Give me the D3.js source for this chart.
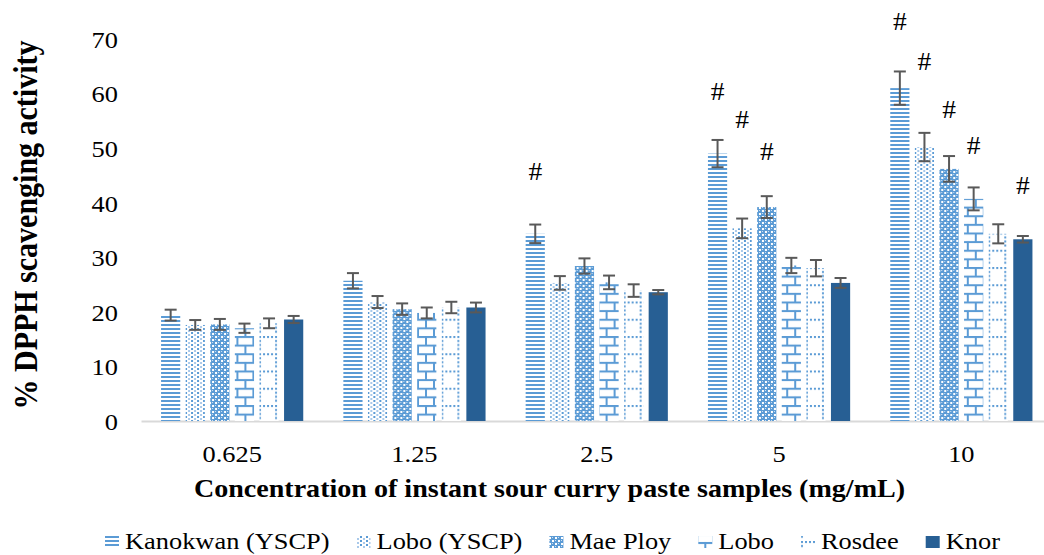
<!DOCTYPE html>
<html>
<head>
<meta charset="utf-8">
<script src="https://cdn.jsdelivr.net/npm/d3@7"></script>
<style>
  body { margin: 0; background: #fff; }
</style>
</head>
<body>
<svg id="chart" width="1044" height="555" font-family="Liberation Serif"></svg>
<script>
// concentrations (mg/mL)
const categories = ["0.625", "1.25", "2.5", "5", "10"];
const seriesNames = ["Kanokwan (YSCP)", "Lobo (YSCP)", "Mae Ploy", "Lobo", "Rosdee", "Knor"];

// % DPPH scavenging activity
const kanokwanYSCP = [19.4, 25.7, 34.3, 49.0, 61.0];
const loboYSCP     = [17.6, 21.8, 25.3, 35.3, 50.2];
const maePloy      = [17.7, 20.5, 28.4, 39.2, 46.2];
const lobo         = [17.0, 19.8, 25.4, 28.5, 40.7];
const rosdee       = [17.9, 20.8, 23.9, 28.0, 34.3];
const knor         = [18.6, 20.8, 23.6, 25.3, 33.3];

// error bar half-lengths
const errKanokwanYSCP = [1.0, 1.4, 1.7, 2.5, 3.05];
const errLoboYSCP     = [0.9, 1.1, 1.25, 1.8, 2.6];
const errMaePloy      = [1.0, 1.05, 1.4, 2.0, 2.35];
const errLobo         = [0.85, 1.0, 1.25, 1.4, 2.1];
const errRosdee       = [0.9, 1.05, 1.15, 1.5, 1.75];
const errKnor         = [0.65, 0.9, 0.4, 0.9, 0.6];

const yTicks = [0, 10, 20, 30, 40, 50, 60, 70];

// "#" significance marks: category, series index, height in axis units
const hashCats   = ["2.5", "5", "5", "5", "10", "10", "10", "10", "10"];
const hashSeries = [0, 0, 1, 2, 0, 1, 2, 3, 5];
const hashValues = [45.6, 60.3, 55.2, 49.3, 73.1, 65.8, 57.0, 50.4, 43.1];

const values = [kanokwanYSCP, loboYSCP, maePloy, lobo, rosdee, knor];
const errors = [errKanokwanYSCP, errLoboYSCP, errMaePloy, errLobo, errRosdee, errKnor];

const blue = "#5b9bd5", dark = "#275f94", errColor = "#595959";
const font = "Liberation Serif";
const sx = 1.1; // the picture's text is a little wide

const svg = d3.select("#chart");
const defs = svg.append("defs");

const x0 = d3.scaleBand().domain(categories).range([141, 1052.5])
  .paddingInner(0.22).paddingOuter(0.11);
const x1 = d3.scaleBand().domain(seriesNames).range([0, x0.bandwidth()])
  .paddingInner(0.22).paddingOuter(0);
const y = d3.scaleLinear().domain([0, 70]).range([421, 39]);
const y0 = y(0);

// ---- patterns ----
function pat(id, w, h, px, py) {
  return defs.append("pattern").attr("id", id).attr("patternUnits", "userSpaceOnUse")
    .attr("x", px || 0).attr("y", py || 0).attr("width", w).attr("height", h);
}
function box(p, x, yy, w, h, c) {
  p.append("rect").attr("x", x).attr("y", yy).attr("width", w).attr("height", h).attr("fill", c);
}

// horizontal stripes
let p = pat("p-stripes", 4, 4);
box(p, 0, 0, 4, 4, "#fff"); box(p, 0, 0, 4, 2, blue);

// small dots
p = pat("p-dots", 6, 4);
box(p, 0, 0, 6, 4, "#fff"); box(p, 0, 0, 2, 2, blue); box(p, 3, 2, 2, 2, "#a9c9ea");

// checker
p = pat("p-checker", 6, 6);
box(p, 0, 0, 6, 6, blue); box(p, 0, 0, 2, 2, "#fff"); box(p, 3, 3, 2, 2, "#fff");
box(p, 3, 0, 1, 1, "#cfe0f2"); box(p, 0, 3, 1, 1, "#cfe0f2");

// dotted grid
function gridPattern(id, px, py) {
  const g = pat(id, 16, 17.25, px, py);
  box(g, 0, 0, 16, 17.25, "#fff");
  for (let i = 0; i < 16; i += 4) box(g, i, 0, 2, 2, blue);
  for (let j = 4; j < 16; j += 4) box(g, 0, j, 2, 2, blue);
}
gridPattern("p-grid", 2, y0 - 16);

// brick, aligned to each bar
function brickPattern(id, px, py) {
  const b = pat(id, 16, 17.25, px, py);
  box(b, 0, 0, 16, 17.25, "#fff");
  box(b, 0, 0, 16, 2, blue);
  box(b, 0, 8.6, 16, 2, blue);
  box(b, 0, 0, 2, 8.6, blue);
  box(b, 8, 8.6, 2, 8.65, blue);
}

function fillFor(si, ci) {
  if (si === 0) return "url(#p-stripes)";
  if (si === 1) return "url(#p-dots)";
  if (si === 2) return "url(#p-checker)";
  if (si === 3) return "url(#p-brick-" + ci + ")";
  if (si === 4) return "url(#p-grid)";
  return dark;
}

categories.forEach((c, ci) => {
  brickPattern("p-brick-" + ci, x0(c) + x1(seriesNames[3]) + 0.5, y0 - 16);
});

// ---- x axis ----
const xAxis = svg.append("g")
  .attr("transform", "translate(0," + y0 + ")")
  .call(d3.axisBottom(x0).tickSize(0).tickSizeOuter(0))
  .attr("font-family", font).attr("font-size", 24);
xAxis.select(".domain").attr("stroke", "#d9d9d9").attr("stroke-width", 2);
xAxis.selectAll("text")
  .attr("y", 41).attr("dy", 0)
  .attr("fill", "#000")
  .attr("transform", "scale(" + sx + ",1)");

// ---- y axis ----
const yAxis = svg.append("g")
  .attr("transform", "translate(141,0)")
  .call(d3.axisLeft(y).tickValues(yTicks).tickSize(0))
  .attr("font-family", font).attr("font-size", 24);
yAxis.select(".domain").remove();
yAxis.selectAll("text")
  .attr("x", -21).attr("dy", "0.35em")
  .attr("fill", "#000")
  .attr("transform", "scale(" + sx + ",1)");

// ---- bars ----
const groups = svg.append("g").selectAll("g")
  .data(categories)
  .enter().append("g")
  .attr("transform", c => "translate(" + x0(c) + ",0)");

const cells = groups.selectAll("g")
  .data((c, ci) => seriesNames.map((s, si) => ({ s, si, ci, v: values[si][ci], e: errors[si][ci] })))
  .enter().append("g");

cells.append("rect")
  .attr("x", d => x1(d.s))
  .attr("y", d => y(d.v))
  .attr("width", x1.bandwidth())
  .attr("height", d => y0 - y(d.v))
  .attr("fill", d => fillFor(d.si, d.ci));

// error bars
const cap = 6;
cells.append("line")
  .attr("x1", d => x1(d.s) + x1.bandwidth() / 2)
  .attr("x2", d => x1(d.s) + x1.bandwidth() / 2)
  .attr("y1", d => y(d.v - d.e))
  .attr("y2", d => y(d.v + d.e))
  .attr("stroke", errColor).attr("stroke-width", 2);
["v+", "v-"].forEach(k => {
  cells.append("line")
    .attr("x1", d => x1(d.s) + x1.bandwidth() / 2 - cap)
    .attr("x2", d => x1(d.s) + x1.bandwidth() / 2 + cap)
    .attr("y1", d => y(k === "v+" ? d.v + d.e : d.v - d.e))
    .attr("y2", d => y(k === "v+" ? d.v + d.e : d.v - d.e))
    .attr("stroke", errColor).attr("stroke-width", 2);
});

// "#" marks
svg.append("g").selectAll("text")
  .data(hashValues.map((v, i) => ({ c: hashCats[i], s: seriesNames[hashSeries[i]], v })))
  .enter().append("text")
  .attr("text-anchor", "middle")
  .attr("dy", "0.33em")
  .attr("font-family", font)
  .attr("font-size", 25)
  .attr("transform", d => "translate(" + (x0(d.c) + x1(d.s) + x1.bandwidth() / 2) + "," + y(d.v) + ") scale(" + sx + ",1)")
  .text("#");

// ---- axis titles ----
svg.append("text")
  .attr("text-anchor", "middle")
  .attr("font-family", font)
  .attr("font-weight", "bold")
  .attr("font-size", 26)
  .attr("transform", "translate(549.5,497) scale(1.08,1)")
  .text("Concentration of instant sour curry paste samples (mg/mL)");

svg.append("text")
  .attr("text-anchor", "middle")
  .attr("font-family", font)
  .attr("font-weight", "bold")
  .attr("font-size", 30)
  .attr("transform", "translate(37,225) scale(1.15,1) rotate(-90)")
  .text("% DPPH scavenging activity");

// ---- legend ----
const legend = svg.append("g");
let lx = 105;
seriesNames.forEach((name, si) => {
  const iy = 536;
  let fill = fillFor(si, 0);
  if (si === 3) {
    brickPattern("p-brick-legend", lx - 2, iy - 2.6);
    fill = "url(#p-brick-legend)";
  }
  if (si === 4) {
    gridPattern("p-grid-legend", lx + 16, iy + 5);
    fill = "url(#p-grid-legend)";
  }
  legend.append("rect")
    .attr("x", lx).attr("y", iy).attr("width", 14).attr("height", 12)
    .attr("fill", fill);
  const t = legend.append("text")
    .attr("font-family", font)
    .attr("font-size", 24)
    .attr("transform", "translate(" + (lx + 20) + ",549) scale(" + sx + ",1)")
    .text(name);
  lx = lx + 20 + t.node().getComputedTextLength() * sx + 27;
});
</script>
</body>
</html>
